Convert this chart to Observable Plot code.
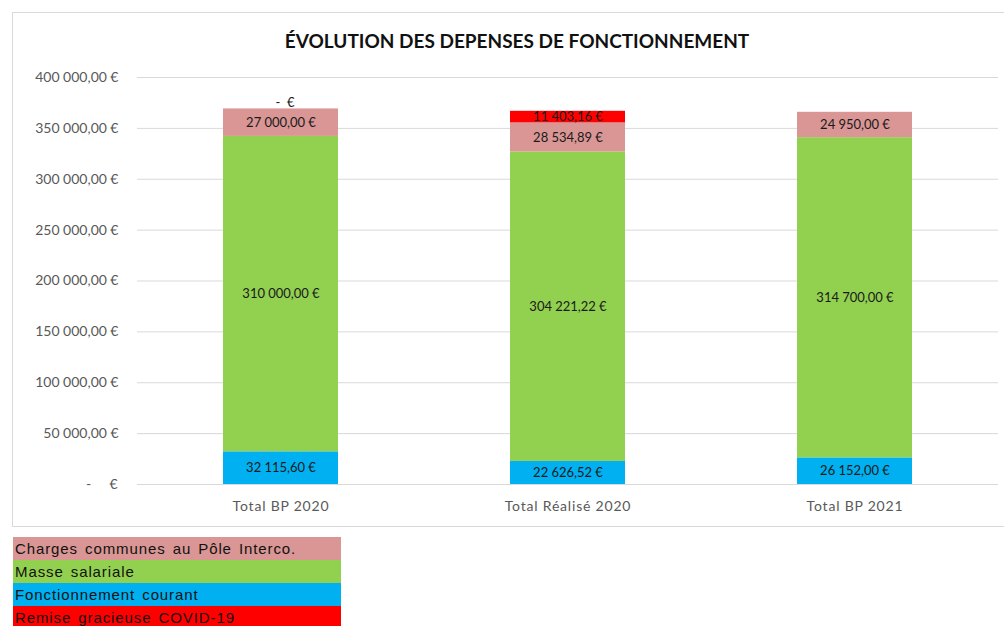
<!DOCTYPE html>
<html><head><meta charset="utf-8">
<script src="https://cdn.jsdelivr.net/npm/d3@7"></script>
<script src="https://cdn.jsdelivr.net/npm/@observablehq/plot@0.6"></script>
<style>
body{margin:0;background:#fff;width:1004px;height:626px;overflow:hidden;position:relative;font-family:Lato,"Open Sans",sans-serif;}
#box{position:absolute;left:12px;top:12px;width:1000px;height:515px;border:1px solid #d9d9d9;box-sizing:border-box;}
#title{position:absolute;left:0;top:29px;width:1034px;text-align:center;font:bold 19px Lato,sans-serif;color:#111;}
#chart{position:absolute;left:0;top:60px;}
#chart g[aria-label="y-axis tick label"] text{letter-spacing:0.8px;}
#chart g[aria-label="x-axis tick label"] text{letter-spacing:0.8px;}
#legend{position:absolute;left:13px;top:537px;width:328px;font:15px "Liberation Sans",Arial,sans-serif;color:#111;letter-spacing:0.9px;word-spacing:2px;}
#legend div{height:23px;line-height:23px;padding-left:2px;box-sizing:border-box;white-space:nowrap;overflow:hidden;}
</style></head>
<body>
<div id="box"></div>
<div id="title">ÉVOLUTION DES DEPENSES DE FONCTIONNEMENT</div>
<div id="chart"></div>
<div id="legend"></div>
<script>
const categories = ["Total BP 2020", "Total Réalisé 2020", "Total BP 2021"];
const series = ["Fonctionnement courant", "Masse salariale", "Charges communes au Pôle Interco.", "Remise gracieuse COVID-19"];
const colors = ["#00B0F0", "#92D050", "#D99694", "#FF0000"];
const fonctionnement = [32115.60, 22626.52, 26152.00];
const masse = [310000.00, 304221.22, 314700.00];
const charges = [27000.00, 28534.89, 24950.00];
const remise = [0, 11403.16, null];
const legendOrder = ["Charges communes au Pôle Interco.", "Masse salariale", "Fonctionnement courant", "Remise gracieuse COVID-19"];
const yTicks = [0, 50000, 100000, 150000, 200000, 250000, 300000, 350000, 400000];

const seriesValues = [fonctionnement, masse, charges, remise];
const data = [];
categories.forEach((c, i) => {
  series.forEach((s, j) => {
    const v = seriesValues[j][i];
    if (v !== null) data.push({category: c, series: s, value: v});
  });
});

const loc = d3.formatLocale({decimal: ",", thousands: "\u202f", grouping: [3], currency: ["", ""]});
const fmt = loc.format(",.2f");
const money = v => v === 0 ? "-\u00a0\u00a0\u00a0\u00a0€" : fmt(v) + "\u202f€";
const barMoney = v => v === 0 ? "-\u00a0\u00a0€" : fmt(v) + "\u202f€";

const plot = Plot.plot({
  width: 1004,
  height: 468,
  marginLeft: 137,
  marginRight: 6,
  marginTop: 17,
  marginBottom: 44,
  x: {domain: categories, paddingInner: 0.6, paddingOuter: 0.3, label: null},
  y: {domain: [0, 400000], label: null},
  color: {domain: series, range: colors},
  style: {fontFamily: "Lato, sans-serif", background: "transparent"},
  marks: [
    Plot.gridY(yTicks, {stroke: "#d9d9d9", strokeOpacity: 1, strokeWidth: 1}),
    Plot.axisY(yTicks, {tickSize: 0, tickPadding: 19, tickFormat: money, fill: "#595959", fontSize: 14, label: null}),
    Plot.axisX({tickSize: 0, tickPadding: 17, fill: "#595959", fontSize: 14, label: null}),
    Plot.barY(data, Plot.stackY({x: "category", y: "value", fill: "series", order: null})),
    Plot.text(data, Plot.stackY({x: "category", y: "value", z: "series", order: null, text: d => d.value !== 0 ? barMoney(d.value) : "", fill: "#1a1a1a", fontSize: 13})),
    Plot.text(data, Plot.stackY({x: "category", y: "value", z: "series", order: null, text: d => d.value === 0 ? barMoney(d.value) : "", fill: "#1a1a1a", fontSize: 13, dy: -6, dx: 4}))
  ]
});
document.getElementById("chart").appendChild(plot);

const legend = document.getElementById("legend");
legendOrder.forEach(s => {
  const d = document.createElement("div");
  d.style.background = colors[series.indexOf(s)];
  d.textContent = s;
  legend.appendChild(d);
});
</script>
</body></html>
